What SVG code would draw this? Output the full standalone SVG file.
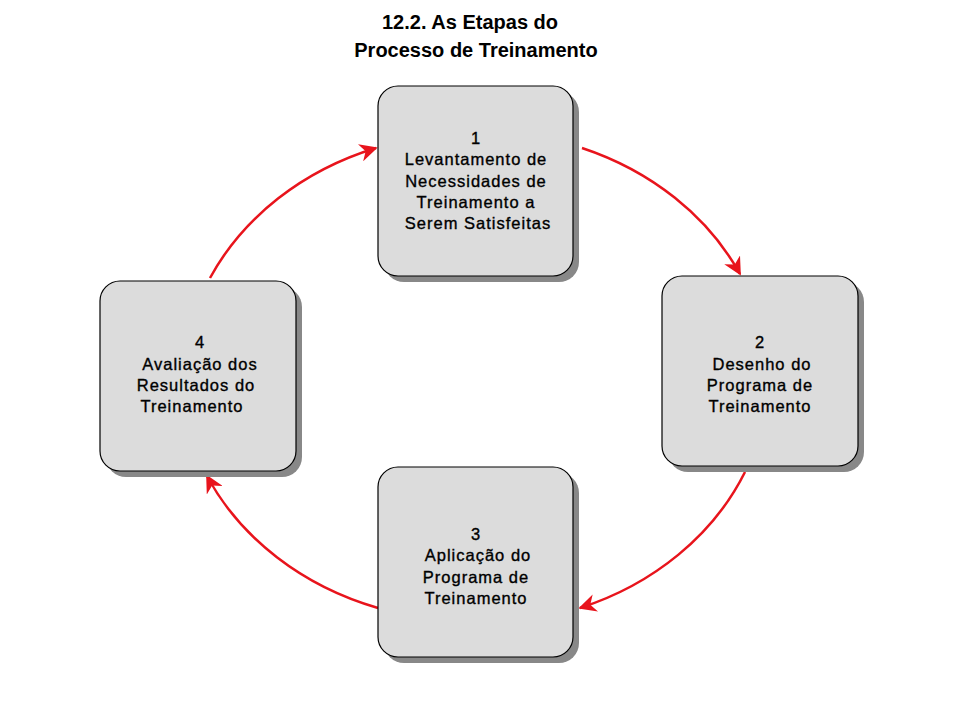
<svg xmlns="http://www.w3.org/2000/svg" width="960" height="720" viewBox="0 0 960 720">
<style>
.box{fill:#dcdcdc;stroke:#000;stroke-width:1.2}
.sh{fill:#888}
.t{font-family:"Liberation Sans",Arial,sans-serif;font-size:16.5px;letter-spacing:1px;text-anchor:middle;fill:#000;stroke:#000;stroke-width:0.35}
.ti{font-family:"Liberation Sans",Arial,sans-serif;font-size:20px;font-weight:bold;text-anchor:middle;fill:#000}
.c{fill:none;stroke:#e8141c;stroke-width:2.5}
</style>
<defs><marker id="a" viewBox="0 0 10 10" refX="9" refY="5" markerWidth="18" markerHeight="18" orient="auto" markerUnits="userSpaceOnUse"><path d="M0,0 L10,5 L0,10 L3,5 z" fill="#e8141c"/></marker></defs>
<rect width="960" height="720" fill="#fff"/>
<text class="ti" x="470" y="29">12.2. As Etapas do</text>
<text class="ti" x="476" y="57">Processo de Treinamento</text>
<g id="connectors">
<path class="c" d="M582,148 A290,252 0 0 1 740,274" marker-end="url(#a)"/>
<path class="c" d="M745,472 A290,252 0 0 1 580,608" marker-end="url(#a)"/>
<path class="c" d="M378,608 A290,252 0 0 1 207,476" marker-end="url(#a)"/>
<path class="c" d="M210,278 A290,252 0 0 1 376,148" marker-end="url(#a)"/>
</g>
<g id="n1"><rect class="sh" x="384" y="92" width="195" height="190" rx="20"/><rect class="box" x="378" y="86" width="195" height="190" rx="20"/>
<text class="t" x="476" y="144">1</text><text class="t" x="476" y="165">Levantamento de</text><text class="t" x="476" y="187">Necessidades de</text><text class="t" x="476" y="208">Treinamento a</text><text class="t" x="478" y="229">Serem Satisfeitas</text></g>
<g id="n2"><rect class="sh" x="668" y="282" width="196" height="190" rx="20"/><rect class="box" x="662" y="276" width="196" height="190" rx="20"/>
<text class="t" x="760" y="348">2</text><text class="t" x="762" y="370">Desenho do</text><text class="t" x="760" y="391">Programa de</text><text class="t" x="760" y="412">Treinamento</text></g>
<g id="n3"><rect class="sh" x="384" y="473" width="195" height="190" rx="20"/><rect class="box" x="378" y="467" width="195" height="190" rx="20"/>
<text class="t" x="476" y="540">3</text><text class="t" x="478" y="561">Aplicação do</text><text class="t" x="476" y="583">Programa de</text><text class="t" x="476" y="604">Treinamento</text></g>
<g id="n4"><rect class="sh" x="106" y="287" width="196" height="190" rx="20"/><rect class="box" x="100" y="281" width="196" height="190" rx="20"/>
<text class="t" x="200" y="348">4</text><text class="t" x="200" y="370">Avaliação dos</text><text class="t" x="196" y="391">Resultados do</text><text class="t" x="192" y="412">Treinamento</text></g>
</svg>
